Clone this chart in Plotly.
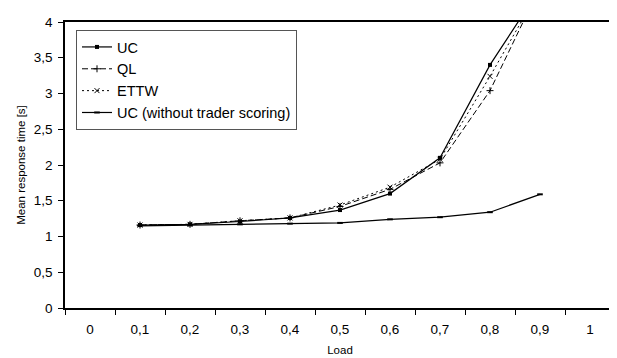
import plotly.graph_objects as go

categories = ["0", "0,1", "0,2", "0,3", "0,4", "0,5", "0,6", "0,7", "0,8", "0,9", "1"]
x_loads = ["0,1", "0,2", "0,3", "0,4", "0,5", "0,6", "0,7", "0,8", "0,9"]
uc = [1.16, 1.17, 1.21, 1.26, 1.37, 1.60, 2.10, 3.40, 4.47]
ql = [1.16, 1.17, 1.22, 1.26, 1.42, 1.66, 2.03, 3.04, 4.49]
ettw = [1.16, 1.17, 1.22, 1.26, 1.44, 1.69, 2.08, 3.24, 4.46]
uc_noscore = [1.15, 1.16, 1.17, 1.18, 1.19, 1.24, 1.27, 1.34, 1.59]
y_ticks = [0, 0.5, 1, 1.5, 2, 2.5, 3, 3.5, 4]
y_ticktext = ["0", "0,5", "1", "1,5", "2", "2,5", "3", "3,5", "4"]

FONT = "Liberation Sans"

fig = go.Figure()
fig.add_trace(go.Scatter(x=x_loads, y=uc, name="UC", mode="lines+markers",
                         line=dict(color="black", width=1.2),
                         marker=dict(symbol="square", size=4, color="black"),
                         legendgroup="a"))
fig.add_trace(go.Scatter(x=x_loads, y=ql, name="QL", mode="lines+markers",
                         line=dict(color="black", width=1, dash="6px,3px"),
                         marker=dict(symbol="cross-thin-open", size=5,
                                     line=dict(color="black", width=1)),
                         legendgroup="b"))
fig.add_trace(go.Scatter(x=x_loads, y=ettw, name="ETTW", mode="lines+markers",
                         line=dict(color="black", width=1, dash="2px,3px"),
                         marker=dict(symbol="x-thin-open", size=5,
                                     line=dict(color="black", width=1)),
                         legendgroup="c"))
fig.add_trace(go.Scatter(x=x_loads, y=uc_noscore, name="UC (without trader scoring)",
                         mode="lines+markers",
                         line=dict(color="black", width=1.2),
                         marker=dict(symbol="line-ew-open", size=4,
                                     line=dict(color="black", width=2)),
                         legendgroup="d"))

# page has an 8px body margin, so margins are compensated accordingly
fig.update_layout(
    width=617, height=358,
    margin=dict(l=57, r=10, t=7, b=58),
    paper_bgcolor="white", plot_bgcolor="white",
    font=dict(family=FONT, size=13, color="black"),
    showlegend=True,
    legend=dict(x=0.02, y=0.972, xanchor="left", yanchor="top",
                bordercolor="#555555", borderwidth=1, bgcolor="white",
                font=dict(size=14.5), traceorder="grouped", tracegroupgap=0),
    xaxis=dict(type="category", categoryorder="array", categoryarray=categories,
               range=[-0.5, 10.5], tickson="boundaries", ticks="outside",
               ticklen=5, tickcolor="black", showline=True, linecolor="black",
               linewidth=1.5, mirror=True, showgrid=False, zeroline=False,
               tickfont=dict(size=13.5), ticklabelstandoff=8,
               title=dict(text="Load", standoff=10, font=dict(size=11.5))),
    yaxis=dict(range=[0, 4], tickvals=y_ticks, ticktext=y_ticktext,
               ticks="outside", ticklen=5, tickcolor="black", showline=True,
               linecolor="black", linewidth=1.5, mirror=True, showgrid=False,
               zeroline=False, tickfont=dict(size=13.5), ticklabelstandoff=3,
               title=dict(text="Mean response time [s]", standoff=6,
                          font=dict(size=11.5))),
)

fig.write_html("out.html")
